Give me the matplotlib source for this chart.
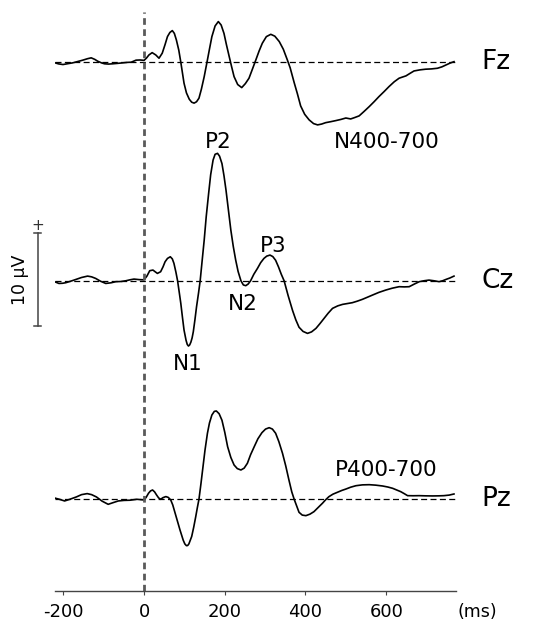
import matplotlib.pyplot as plt

# grand-average ERP waveforms, time in ms, amplitude in microvolts (positive up)
fz_t = [-222, -212, -201, -188, -177, -164, -152, -140, -131, -122, -115, -105, -98, -88, -78, -65, -53, -42, -32, -20, -10, 0,
        6, 12, 20, 29, 37, 45, 52, 58, 64, 70, 75, 80, 86, 91, 99, 105, 112, 118, 124, 130, 136, 142, 149, 157, 162, 168,
        176, 184, 191, 198, 204, 211, 217, 223, 232, 242, 251, 260, 268, 277, 285, 293, 303, 314, 324, 335, 345, 355, 362,
        372, 380, 388, 398, 409, 420, 430, 440, 450, 462, 475, 488, 500, 512, 522, 533, 545, 558, 570, 582, 595, 607, 620,
        632, 640, 649, 659, 669, 684, 698, 712, 727, 738, 748, 758, 768]
fz_uv = [-0.05, -0.18, -0.25, -0.15, -0.07, 0.08, 0.22, 0.38, 0.47, 0.3, 0.11, -0.08, -0.17, -0.2, -0.17, -0.12, -0.07, -0.02, 0.0, 0.22, 0.24, 0.2,
         0.45, 0.78, 1.03, 0.78, 0.43, 0.97, 1.9, 2.76, 3.2, 3.4, 3.1, 2.4, 1.3, 0.0, -2.26, -3.3, -3.98, -4.3, -4.4, -4.25, -3.87, -2.9, -1.55, 0.25, 1.4, 2.75,
         3.9, 4.37, 4.0, 3.1, 1.9, 0.6, -0.5, -1.55, -2.4, -2.73, -2.3, -1.72, -0.8, 0.25, 1.2, 2.04, 2.75, 3.0, 2.8, 2.22, 1.4, 0.25, -0.6,
         -2.2, -3.4, -4.7, -5.6, -6.2, -6.6, -6.74, -6.65, -6.5, -6.4, -6.28, -6.15, -6.0, -6.1, -5.95, -5.77, -5.3, -4.77, -4.25, -3.7, -3.15, -2.62, -2.1,
         -1.72, -1.6, -1.47, -1.2, -0.94, -0.82, -0.75, -0.72, -0.65, -0.5, -0.3, -0.1, 0.06]

cz_t = [-222, -211, -202, -194, -182, -169, -155, -140, -130, -120, -108, -95, -82, -70, -57, -45, -35, -25, -12, 0,
        7, 14, 22, 28, 33, 41, 47, 52, 58, 65, 70, 74, 79, 83, 87, 91, 95, 99, 104, 107, 110, 113, 116, 119, 122, 126, 130,
        135, 139, 144, 149, 154, 160, 165, 171, 176, 182, 187, 193, 198, 203, 209, 215, 221, 227, 233, 240, 246, 252, 258,
        264, 272, 281, 289, 297, 304, 312, 319, 326, 333, 340, 347, 357, 368, 376, 384, 394, 405, 415, 426, 436, 446, 456,
        467, 480, 492, 504, 516, 528, 541, 553, 566, 582, 599, 615, 632, 645, 657, 670, 682, 694, 706, 718, 731, 740, 748,
        758, 768]
cz_uv = [-0.1, -0.29, -0.27, -0.21, -0.05, 0.14, 0.35, 0.5, 0.42, 0.25, -0.05, -0.29, -0.22, -0.1, -0.08, 0.0, 0.1, 0.18, 0.12, 0.1,
         0.5, 1.08, 1.15, 0.95, 0.79, 0.97, 1.5, 2.04, 2.4, 2.58, 2.35, 1.87, 0.9, 0.0, -1.2, -2.43, -3.9, -5.3, -6.4, -6.85, -7.02, -6.9, -6.6, -6.15, -5.48, -4.2, -2.8,
         -1.3, 0.0, 2.2, 4.38, 6.9, 9.4, 11.4, 12.98, 13.6, 13.7, 13.4, 12.6, 11.3, 9.75, 7.6, 5.45, 3.7, 2.23, 1.0, 0.0, -0.45, -0.53, -0.35,
         0.0, 0.7, 1.33, 1.95, 2.4, 2.65, 2.76, 2.6, 2.2, 1.5, 0.7, 0.0, -1.6, -3.2, -4.2, -5.0, -5.45, -5.66, -5.5, -5.12, -4.6, -4.05, -3.5,
         -2.97, -2.7, -2.54, -2.45, -2.36, -2.2, -2.0, -1.78, -1.54, -1.25, -1.0, -0.8, -0.64, -0.66, -0.64, -0.35, -0.1, 0.0, 0.07, 0.0, -0.1, 0.0, 0.14,
         0.3, 0.5]

pz_t = [-222, -210, -197, -184, -168, -155, -141, -130, -118, -104, -89, -76, -64, -50, -35, -18, 0,
        5, 11, 16, 21, 26, 31, 36, 41, 47, 54, 60, 66, 71, 77, 83, 89, 97, 101, 105, 108, 111, 118, 123, 128, 132, 136, 141, 146,
        151, 157, 162, 168, 174, 179, 186, 193, 200, 207, 215, 223, 231, 240, 248, 256, 264, 273, 282, 292, 301, 310, 318,
        326, 334, 343, 351, 359, 366, 372, 378, 384, 392, 401, 411, 421, 431, 442, 450, 458, 468, 479, 490, 500, 512, 525,
        541, 558, 574, 591, 604, 616, 626, 636, 645, 653, 667, 682, 698, 715, 730, 743, 756, 768]
pz_uv = [0.14, 0.0, -0.18, 0.0, 0.25, 0.5, 0.61, 0.5, 0.25, -0.2, -0.54, -0.35, -0.18, -0.12, -0.1, 0.0, -0.07,
         0.2, 0.65, 0.9, 1.0, 0.8, 0.46, 0.15, 0.0, 0.18, 0.29, 0.2, -0.07, -0.6, -1.5, -2.4, -3.3, -4.4, -4.8, -4.99, -4.97, -4.8, -4.0, -3.0, -1.87, -0.9, 0.0, 1.7, 3.5,
         5.3, 7.1, 8.2, 9.06, 9.45, 9.5, 9.2, 8.5, 7.2, 5.66, 4.5, 3.69, 3.3, 3.15, 3.35, 3.87, 4.8, 5.66, 6.5, 7.16, 7.55, 7.7, 7.55,
         7.1, 6.2, 4.95, 3.6, 2.07, 0.8, 0.0, -0.7, -1.4, -1.7, -1.76, -1.6, -1.33, -0.9, -0.43, -0.05, 0.28, 0.55, 0.75, 0.95, 1.1, 1.3, 1.46,
         1.55, 1.57, 1.52, 1.43, 1.32, 1.18, 1.0, 0.82, 0.6, 0.39, 0.38, 0.39, 0.37, 0.36, 0.37, 0.39, 0.45, 0.57]

channels = ['Fz', 'Cz', 'Pz']
time_ticks = [-200, 0, 200, 400, 600]

# component labels: (text, channel, latency in ms, amplitude in uV)
components = [
    ('P2', 'Cz', 183, 14.95),
    ('N400-700', 'Fz', 601, -8.55),
    ('P3', 'Cz', 319, 3.7),
    ('N2', 'Cz', 244, -2.5),
    ('N1', 'Cz', 107, -8.9),
    ('P400-700', 'Pz', 601, 3.2),
]

# vertical stacking of the channels, in uV
offset = {'Fz': 47.0, 'Cz': 23.5, 'Pz': 0.0}
waves = {'Fz': (fz_t, fz_uv), 'Cz': (cz_t, cz_uv), 'Pz': (pz_t, pz_uv)}

fig = plt.figure(figsize=(5.33, 6.21), dpi=100)
ax = fig.add_axes([54.5 / 533, 30.3 / 621, 401.5 / 533, 590.7 / 621])
ax.set_xlim(-222, 773)
ax.set_ylim(-9.83, 53.69)

for ch in channels:
    t, uv = waves[ch]
    base = offset[ch]
    ax.axhline(base, color='black', lw=0.9, dashes=(4.8, 2.7))
    ax.plot(t, [v + base for v in uv], color='black', lw=1.2, solid_joinstyle='round')
    ax.text(837, base, ch, fontsize=19, ha='left', va='center')

# stimulus onset
ax.plot([0, 0], [-9.83, 52.4], color='#5a5a5a', lw=2.0, dashes=(2.4, 1.6))

for label, ch, t, uv in components:
    ax.text(t, uv + offset[ch], label, fontsize=15.5, ha='center', va='center')

# 10 uV scale bar next to Cz
bar_x = -264
bar_lo = offset['Cz'] - 4.9
bar_hi = bar_lo + 10
ax.plot([bar_x, bar_x], [bar_lo, bar_hi], color='#444444', lw=1.1, clip_on=False)
for yb in (bar_lo, bar_hi):
    ax.plot([bar_x - 8, bar_x + 8], [yb, yb], color='#444444', lw=1.1, clip_on=False)
ax.text(bar_x, bar_hi + 0.8, '+', fontsize=11, ha='center', va='center', color='#333333')
ax.text(bar_x - 43, (bar_lo + bar_hi) / 2, '10 µV', fontsize=12.5, rotation=90,
        ha='center', va='center')

for side in ['top', 'right', 'left']:
    ax.spines[side].set_visible(False)
ax.spines['bottom'].set_color('#444444')
ax.spines['bottom'].set_linewidth(1.0)
ax.set_yticks([])
ax.set_xticks(time_ticks)
ax.set_xticklabels([str(v) for v in time_ticks])
ax.tick_params(axis='x', length=3, width=0.8, color='#444444', pad=6, labelsize=13)
ax.annotate('(ms)', xy=(826, 0), xycoords=('data', 'axes fraction'), xytext=(0, -9),
            textcoords='offset points', ha='center', va='top', fontsize=12.5,
            annotation_clip=False)

fig.savefig('out.png', dpi=100, facecolor='white')
